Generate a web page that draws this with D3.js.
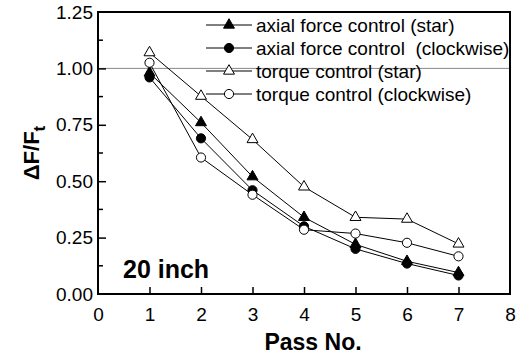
<!DOCTYPE html>
<html>
<head>
<meta charset="utf-8">
<script src="https://cdn.jsdelivr.net/npm/d3@7"></script>
<style>
  body { margin: 0; background: #fff; }
  svg { font-family: "Liberation Sans", Arial, sans-serif; }
</style>
</head>
<body>
<div id="chart"></div>
<script>
var passes = [1, 2, 3, 4, 5, 6, 7];
var axialStar = [0.98, 0.76, 0.52, 0.34, 0.22, 0.145, 0.095];
var axialClockwise = [0.96, 0.69, 0.46, 0.30, 0.20, 0.135, 0.082];
var torqueStar = [1.07, 0.877, 0.685, 0.475, 0.34, 0.332, 0.222];
var torqueClockwise = [1.025, 0.605, 0.44, 0.285, 0.268, 0.227, 0.167];
var seriesNames = ["axial force control (star)", "axial force control  (clockwise)", "torque control (star)", "torque control (clockwise)"];
var xTicks = [0, 1, 2, 3, 4, 5, 6, 7, 8];
var yTicks = [0, 0.25, 0.5, 0.75, 1.0, 1.25];
var yMinorTicks = [0.125, 0.375, 0.625, 0.875, 1.125];

var width = 523, height = 354;
var margin = { left: 98, right: 13, top: 12, bottom: 60 };

var svg = d3.select("#chart").append("svg")
  .attr("width", width)
  .attr("height", height);

var x = d3.scaleLinear().domain([0, 8]).range([margin.left, width - margin.right]);
var y = d3.scaleLinear().domain([0, 1.25]).range([height - margin.bottom, margin.top]);

var series = [
  { name: seriesNames[0], values: axialStar, shape: "triangle", fill: "#000" },
  { name: seriesNames[1], values: axialClockwise, shape: "circle", fill: "#000" },
  { name: seriesNames[2], values: torqueStar, shape: "triangle", fill: "#fff" },
  { name: seriesNames[3], values: torqueClockwise, shape: "circle", fill: "#fff" }
];

// reference line at 1.0
svg.append("line")
  .attr("x1", x(0)).attr("x2", x(8))
  .attr("y1", y(1)).attr("y2", y(1))
  .attr("stroke", "#888").attr("stroke-width", 1);

// frame
svg.append("rect")
  .attr("x", x(0)).attr("y", y(1.25))
  .attr("width", x(8) - x(0)).attr("height", y(0) - y(1.25))
  .attr("fill", "none").attr("stroke", "#000").attr("stroke-width", 2);

// axes with inward ticks
var xAxis = svg.append("g")
  .attr("transform", "translate(0," + y(0) + ")")
  .call(d3.axisBottom(x).tickValues(xTicks).tickFormat(d3.format("d")).tickSize(-7).tickPadding(14));
xAxis.select(".domain").remove();
xAxis.selectAll(".tick line").attr("stroke-width", 1.5).filter(function (d) { return d === 0 || d === 8; }).remove();
xAxis.selectAll("text").attr("font-size", 19).attr("fill", "#000");

var yAxis = svg.append("g")
  .attr("transform", "translate(" + x(0) + ",0)")
  .call(d3.axisLeft(y).tickValues(yTicks).tickFormat(d3.format(".2f")).tickSize(-8).tickPadding(5));
yAxis.select(".domain").remove();
yAxis.selectAll(".tick line").attr("stroke-width", 1.5).filter(function (d) { return d === 0 || d === 1.25; }).remove();
yAxis.selectAll("text").attr("font-size", 19).attr("fill", "#000");

svg.append("g").selectAll("line")
  .data(yMinorTicks).enter().append("line")
  .attr("x1", x(0)).attr("x2", x(0) + 5)
  .attr("y1", function (d) { return y(d); }).attr("y2", function (d) { return y(d); })
  .attr("stroke", "#000").attr("stroke-width", 1.5);

var triangle = d3.symbol().type(d3.symbolTriangle).size(52);
var circle = d3.symbol().type(d3.symbolCircle).size(66);

function drawMarker(g, shape, fill) {
  g.append("path")
    .attr("d", shape === "triangle" ? triangle() : circle())
    .attr("fill", fill)
    .attr("stroke", "#000")
    .attr("stroke-width", 1);
}

var line = d3.line()
  .x(function (d, i) { return x(passes[i]); })
  .y(function (d) { return y(d); });

series.forEach(function (s) {
  svg.append("path")
    .datum(s.values)
    .attr("d", line)
    .attr("fill", "none")
    .attr("stroke", "#000")
    .attr("stroke-width", 1);
});

series.forEach(function (s) {
  s.values.forEach(function (v, i) {
    var g = svg.append("g").attr("transform", "translate(" + x(passes[i]) + "," + y(v) + ")");
    drawMarker(g, s.shape, s.fill);
  });
});

// legend
var legend = svg.append("g").attr("transform", "translate(206,25)");
series.forEach(function (s, i) {
  var row = legend.append("g").attr("transform", "translate(0," + (i * 23) + ")");
  row.append("line").attr("x1", 0).attr("x2", 46).attr("y1", 0).attr("y2", 0)
    .attr("stroke", "#000").attr("stroke-width", 1);
  var m = row.append("g").attr("transform", "translate(23,0)");
  drawMarker(m, s.shape, s.fill);
  row.append("text")
    .attr("x", 50).attr("y", 0).attr("dy", "0.35em")
    .attr("font-size", 19)
    .style("white-space", "pre")
    .text(s.name);
});

// annotation
svg.append("text")
  .attr("x", 123).attr("y", 278)
  .attr("font-size", 25).attr("font-weight", "bold")
  .text("20 inch");

// axis titles
svg.append("text")
  .attr("x", 313).attr("y", 350)
  .attr("text-anchor", "middle")
  .attr("font-size", 23).attr("font-weight", "bold")
  .text("Pass No.");

var yt = svg.append("text")
  .attr("transform", "translate(39," + ((y(0) + y(1.25)) / 2) + ") rotate(-90)")
  .attr("text-anchor", "middle")
  .attr("font-size", 22).attr("font-weight", "bold");
yt.append("tspan").text("ΔF/F");
yt.append("tspan").attr("font-size", 17).attr("dy", 6).text("t");
</script>
</body>
</html>
